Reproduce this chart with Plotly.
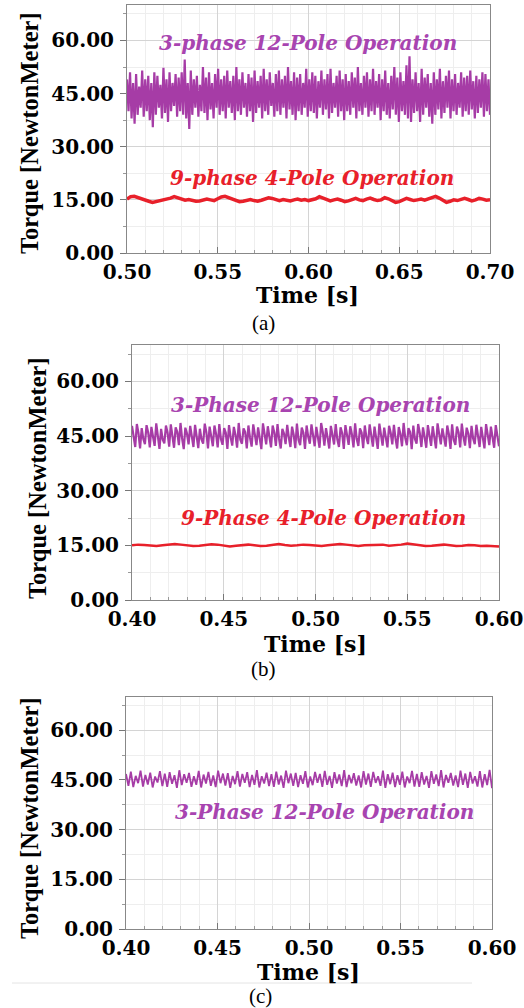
import numpy as np
import plotly.graph_objects as go

# ---------------- data ----------------
# (a) 3-phase 12-pole torque: alternating peak / trough samples (Nm), 0.50-0.70 s
a_peaks = [49, 51, 48, 50.5, 47, 51.5, 49, 50, 48, 51,
           50, 47.5, 52.3, 49, 51, 48, 50.5, 49.5, 51, 54.6,
           48, 51.5, 49, 50, 47.5, 52.5, 49.5, 51, 48, 50.5,
           52, 49, 50, 51.5, 48.5, 50, 52.5, 49, 51, 48,
           50.5, 49.5, 51.5, 48.5, 50, 52, 49, 51, 48, 50.5,
           51.5, 49, 50, 52.5, 48.5, 51, 49.5, 50.5, 48, 52,
           49, 51, 50, 48.5, 51.5, 49, 50.5, 52, 48, 50,
           51.5, 49, 50.5, 48.5, 51, 49.5, 52.5, 48, 50, 51,
           49, 52, 48.5, 50.5, 49, 51.5, 48, 50, 52.5, 49.5,
           51, 48.5, 53, 55.5, 49, 51, 48, 52, 49.5, 50.5,
           48, 51, 49, 52, 48.5, 50, 51.5, 49, 50.5, 48,
           51, 49.5, 50, 51.5, 48.5, 50, 49, 51, 50.5, 49]
a_troughs = [40, 38, 36.5, 39, 41, 38.5, 40, 37.5, 35.5, 39,
             41, 38, 39.5, 37, 40, 41.5, 38.5, 40, 39, 38,
             35, 39, 41, 38.5, 40, 39.5, 37.5, 40.5, 38, 41,
             39, 40, 38, 41, 39.5, 37.5, 40, 39, 41, 38.5,
             40, 37, 39.5, 41, 38, 40, 39, 41.5, 38.5, 40,
             39, 41, 38, 40.5, 39, 37.5, 40, 39, 41, 38.5,
             40, 39.5, 38, 41, 39, 40.5, 38, 39.5, 41, 38.5,
             40, 37.5, 40, 39, 41, 38, 40, 39, 41, 38.5,
             40, 39, 41, 37.5, 40, 39, 38, 40.5, 39, 37,
             40, 39, 38, 37, 39.5, 40, 37, 39, 41, 38.5,
             36.5, 39, 40.5, 38, 39.5, 41, 38, 40, 39, 41,
             38.5, 40, 39, 40.5, 38, 39.5, 41, 38.5, 40, 39]
# (a) 9-phase 4-pole torque (Nm), 0.50-0.70 s
a_red = [15.2, 15.9, 16.0, 15.6, 15.3, 15.0, 14.6, 14.3, 14.5, 14.8,
         15.1, 15.3, 15.5, 15.9, 15.6, 15.2, 14.9, 15.1, 14.8, 14.6,
         14.7, 15.0, 15.2, 15.0, 14.8, 15.3, 15.8, 16.0, 15.6, 15.1,
         14.8, 14.5, 14.6, 14.9, 15.1, 14.8, 14.6, 14.9, 15.3, 15.6,
         15.4, 15.0, 14.8, 15.1, 14.9, 14.7, 15.0, 15.2, 14.9, 15.1,
         14.8, 15.0, 15.3, 15.9, 15.5, 15.0, 14.7, 15.0, 15.2, 14.9,
         14.5, 14.7, 15.1, 15.4, 15.0, 14.8, 15.2, 15.5, 15.1, 14.8,
         15.0, 15.6, 15.3, 14.9, 14.3, 14.5, 15.0, 15.4, 15.1, 14.8,
         15.0, 15.2, 14.9, 15.3, 15.8, 16.0, 15.5, 14.8, 14.3, 14.6,
         15.0, 14.8, 15.2, 15.4, 15.1, 14.7, 15.0, 15.4, 15.2, 14.9, 15.0]

# (b) 3-phase 12-pole torque: peak / mid / trough per cycle (Nm), 0.40-0.60 s
b_peaks = [47.8, 48.3, 47.2, 48.0, 47.5, 48.5, 47.0, 47.9, 48.2, 47.4,
           48.6, 47.3, 47.8, 48.1, 47.0, 48.4, 47.6, 47.9, 48.3, 47.2,
           48.0, 47.5, 48.6, 47.1, 47.9, 48.2, 47.4, 48.5, 47.7, 47.9,
           48.3, 47.0, 48.1, 47.6, 48.4, 47.3, 47.9, 48.2, 47.5, 48.6,
           47.2, 47.8, 48.3, 47.4, 48.0, 47.7, 48.5, 47.1, 47.9, 48.2,
           47.6, 48.4, 47.3, 47.8, 48.1, 47.5, 48.6, 47.2, 47.9, 48.3,
           47.4, 48.0, 47.7, 48.5, 47.1, 47.9, 48.2, 47.6, 48.4, 47.3,
           47.8, 48.1, 47.5, 48.3, 47.6, 48.0]
b_mids = [44.6, 45.8, 44.2, 46.0, 44.8, 45.5, 44.0, 45.9, 44.5, 46.1,
          44.3, 45.7, 44.9, 45.4, 44.1, 46.0, 44.6, 45.6, 44.2, 45.9,
          44.7, 45.3, 44.0, 46.1, 44.5, 45.8, 44.3, 45.5, 44.9, 46.0,
          44.2, 45.7, 44.6, 45.4, 44.0, 45.9, 44.8, 45.6, 44.3, 46.1,
          44.5, 45.3, 44.1, 45.8, 44.7, 45.5, 44.2, 46.0, 44.6, 45.7,
          44.0, 45.4, 44.9, 45.9, 44.3, 45.6, 44.5, 46.1, 44.2, 45.8,
          44.7, 45.3, 44.1, 45.9, 44.6, 45.5, 44.0, 46.0, 44.8, 45.7,
          44.3, 45.4, 44.5, 45.8, 44.2, 45.0]
b_troughs = [42.0, 41.6, 42.8, 41.9, 42.3, 41.5, 43.0, 42.1, 41.8, 42.5,
             41.4, 42.7, 42.0, 41.7, 42.9, 41.6, 42.2, 41.9, 42.6, 41.5,
             42.4, 41.8, 42.9, 41.6, 42.1, 42.5, 41.4, 42.7, 41.9, 42.3,
             41.6, 42.8, 42.0, 41.7, 42.5, 41.5, 42.9, 42.2, 41.8, 42.4,
             41.6, 42.7, 42.0, 41.5, 42.6, 41.9, 42.3, 41.7, 42.8, 42.1,
             41.5, 42.4, 41.9, 42.7, 41.6, 42.2, 42.5, 41.4, 42.9, 42.0,
             41.8, 42.3, 41.6, 42.7, 42.1, 41.5, 42.6, 41.9, 42.4, 41.7,
             42.8, 42.0, 41.6, 42.5, 41.8, 42.2]
# (b) 9-phase 4-pole torque (Nm), 0.40-0.60 s
b_red = [15.0, 15.2, 15.1, 14.9, 14.8, 15.0, 15.3, 15.4, 15.2, 15.0,
         14.8, 14.9, 15.1, 15.3, 15.2, 14.9, 14.7, 14.9, 15.1, 15.2,
         15.0, 14.8, 14.9, 15.2, 15.4, 15.1, 14.9, 15.0, 15.2, 15.1,
         14.9, 14.8, 15.0, 15.3, 15.4, 15.2, 14.9, 14.8, 15.0, 15.1,
         15.3, 15.2, 14.9, 15.0, 15.2, 15.5, 15.3, 15.0, 14.8, 14.9,
         15.1, 15.2, 15.0, 14.8, 14.9, 15.1, 15.0, 14.8, 14.9, 14.8, 14.7]

# (c) 3-phase 12-pole torque: peak / trough per cycle (Nm), 0.40-0.60 s
c_peaks = [46.8, 47.5, 46.2, 47.8, 46.5, 47.2, 46.0, 47.6, 46.9, 47.3,
           46.4, 47.9, 46.7, 47.1, 46.1, 47.7, 46.6, 47.4, 46.3, 47.8,
           46.9, 47.0, 46.2, 47.6, 46.8, 47.3, 46.5, 47.9, 46.1, 47.2,
           46.7, 47.5, 46.3, 47.8, 46.9, 47.1, 46.4, 47.6, 46.0, 47.4,
           46.8, 47.7, 46.2, 47.3, 46.6, 47.9, 46.5, 47.0, 46.3, 47.6,
           46.9, 47.4, 46.1, 47.8, 46.7, 47.2, 46.4, 47.5, 46.0, 47.7,
           46.8, 47.3, 46.2, 47.6, 46.6, 47.9, 46.5, 47.1, 46.3, 47.8,
           46.9, 47.4, 46.1, 47.6, 46.7, 48.0]
c_troughs = [43.2, 42.8, 44.0, 43.0, 43.6, 42.7, 44.2, 43.1, 42.9, 43.8,
             42.6, 43.4, 44.1, 42.9, 43.5, 42.7, 43.9, 43.2, 42.8, 44.0,
             43.3, 42.6, 43.7, 43.0, 44.1, 42.8, 43.5, 42.7, 43.9, 43.1,
             42.9, 43.6, 42.6, 44.0, 43.2, 42.8, 43.8, 42.7, 43.4, 44.1,
             42.9, 43.5, 42.6, 43.9, 43.1, 42.8, 44.0, 43.3, 42.7, 43.6,
             42.9, 44.1, 43.2, 42.6, 43.7, 42.8, 43.5, 42.7, 44.0, 43.0,
             42.9, 43.6, 42.6, 43.8, 43.1, 42.7, 44.1, 43.3, 42.8, 43.5,
             42.6, 43.9, 43.0, 42.7, 43.4, 42.5]

y_ticks = [0, 15, 30, 45, 60]
x_ticks_a = [0.50, 0.55, 0.60, 0.65, 0.70]
x_ticks_bc = [0.40, 0.45, 0.50, 0.55, 0.60]
panel_labels = ["(a)", "(b)", "(c)"]

# ---------------- build series ----------------
def interleave(*lists):
    out = []
    for grp in zip(*lists):
        out.extend(grp)
    return out

a_purple = interleave(a_peaks, a_troughs)
b_purple = interleave(b_peaks, b_mids, b_troughs)
c_purple = interleave(c_peaks, c_troughs)

def times(t0, t1, n):
    return np.linspace(t0, t1, n)

PURPLE = "#a63ca6"
PURPLE_TXT = "#a844b0"
RED = "#e8202a"

fig = go.Figure()
fig.add_trace(go.Scatter(x=times(0.5, 0.7, len(a_purple)), y=a_purple, mode="lines",
                         line=dict(color=PURPLE, width=2.2), xaxis="x", yaxis="y"))
fig.add_trace(go.Scatter(x=times(0.5, 0.7, len(a_red)), y=a_red, mode="lines",
                         line=dict(color=RED, width=3.5), xaxis="x", yaxis="y"))
fig.add_trace(go.Scatter(x=times(0.4, 0.6, len(b_purple)), y=b_purple, mode="lines",
                         line=dict(color=PURPLE, width=2.2), xaxis="x2", yaxis="y2"))
fig.add_trace(go.Scatter(x=times(0.4, 0.6, len(b_red)), y=b_red, mode="lines",
                         line=dict(color=RED, width=2.5), xaxis="x2", yaxis="y2"))
fig.add_trace(go.Scatter(x=times(0.4, 0.6, len(c_purple)), y=c_purple, mode="lines",
                         line=dict(color=PURPLE, width=1.8), xaxis="x3", yaxis="y3"))

W, H = 524, 1008
TICKFONT = dict(family="DejaVu Serif", size=20, weight="bold", color="black")

def xax(left, right, anchor, ticks, rng):
    return dict(domain=[left / W, right / W], anchor=anchor, range=rng, automargin=False,
                tickvals=ticks, tickformat=".2f", tickfont=TICKFONT,
                ticklabeloverflow="allow",
                ticks="inside", ticklen=6, tickcolor="#777",
                showline=True, linecolor="#888", linewidth=1, mirror=True,
                showgrid=True, gridcolor="#d4d4d4", gridwidth=1,
                minor=dict(dtick=0.01, ticks="inside", ticklen=3, tickcolor="#999",
                           showgrid=True, gridcolor="#eeeeee"),
                zeroline=False, fixedrange=True, ticklabelstandoff=1)

def yax(top, bottom, anchor):
    return dict(domain=[1 - bottom / H, 1 - top / H], anchor=anchor, range=[0, 70],
                automargin=False, ticklabeloverflow="allow",
                tickvals=y_ticks, tickformat=".2f", tickfont=TICKFONT,
                ticks="outside", ticklen=6, tickcolor="#777",
                showline=True, linecolor="#888", linewidth=1, mirror=True,
                showgrid=True, gridcolor="#d4d4d4", gridwidth=1,
                minor=dict(dtick=7.5, ticks="outside", ticklen=3, tickcolor="#999",
                           showgrid=True, gridcolor="#eeeeee"),
                zeroline=False, fixedrange=True, ticklabelstandoff=2)

layout = dict(
    width=W, height=H, margin=dict(l=0, r=0, t=0, b=0),
    paper_bgcolor="white", plot_bgcolor="white", showlegend=False,
    xaxis=xax(127, 490, "y", x_ticks_a, [0.5, 0.7]),
    yaxis=yax(5, 253, "x"),
    xaxis2=xax(132, 499, "y2", x_ticks_bc, [0.4, 0.6]),
    yaxis2=yax(345, 600, "x2"),
    xaxis3=xax(126, 492, "y3", x_ticks_bc, [0.4, 0.6]),
    yaxis3=yax(697, 929, "x3"),
)
fig.update_layout(**layout)

ANN_FONT = dict(family="DejaVu Serif", size=20, weight="bold", style="italic")
TITLE_FONT = dict(family="DejaVu Serif", size=22, weight="bold", color="black")
YTITLE_FONT = dict(family="Liberation Serif", size=24.5, weight="bold", color="black")
LABEL_FONT = dict(family="Liberation Serif", size=21, color="black")

ann = []
def txt(x, y, s, font, **kw):
    ann.append(dict(x=x / W, y=1 - y / H, xref="paper", yref="paper", text=s,
                    showarrow=False, font=font, xanchor="center", yanchor="middle", **kw))

# series labels
txt(308, 43, "3-phase 12-Pole Operation", dict(ANN_FONT, color=PURPLE_TXT))
txt(312, 178, "9-phase 4-Pole Operation", dict(ANN_FONT, color=RED))
txt(320, 405, "3-Phase 12-Pole Operation", dict(ANN_FONT, color=PURPLE_TXT))
txt(323, 518, "9-Phase 4-Pole Operation", dict(ANN_FONT, color=RED))
txt(324, 812, "3-Phase 12-Pole Operation", dict(ANN_FONT, color=PURPLE_TXT))

# axis titles
for (xc, yc) in [(307, 295), (315, 644), (308, 972)]:
    txt(xc, yc, "Time [s]", TITLE_FONT)
for (xc, yc) in [(30, 133), (37, 478), (29, 818)]:
    txt(xc, yc, "Torque [NewtonMeter]", YTITLE_FONT, textangle=-90)

# panel labels
for lab, (xc, yc) in zip(panel_labels, [(263, 323), (263, 669), (260, 996)]):
    txt(xc, yc, lab, LABEL_FONT)

fig.update_layout(annotations=ann)
fig.add_shape(type="line", xref="paper", yref="paper", x0=12 / W, x1=472 / W,
              y0=1 - 983 / H, y1=1 - 983 / H, line=dict(color="#e4e4e4", width=1))

fig.write_html("out.html", config={"displayModeBar": False},
               post_script="document.body.style.margin='0';document.body.style.padding='0';")
